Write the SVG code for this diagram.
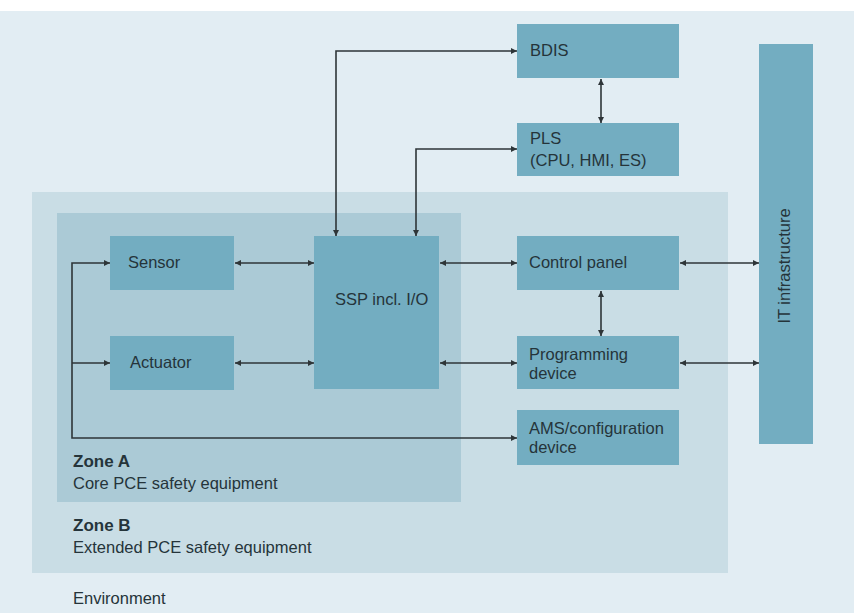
<svg xmlns="http://www.w3.org/2000/svg" width="854" height="613" viewBox="0 0 854 613">
<style>
.node{fill:#73adc1}
.t{font-family:"Liberation Sans",Arial,sans-serif;font-size:16.5px;fill:#25343a}
.b{font-weight:bold;font-size:17px}
.c{fill:none;stroke:#2e3538;stroke-width:1.6}
</style>
<defs>
<marker id="ah" viewBox="0 0 10 10" refX="10" refY="5" markerWidth="9" markerHeight="6" markerUnits="userSpaceOnUse" orient="auto-start-reverse">
<path d="M0,0 L10,5 L0,10 z" fill="#2e3538"/>
</marker>
</defs>
<rect x="0" y="0" width="854" height="613" fill="#ffffff"/>
<rect x="0" y="11" width="854" height="602" fill="#e2edf3"/>
<g id="zoneB">
<rect x="32" y="192" width="696" height="381" fill="#c9dde5"/>
<text class="t b" x="73" y="531">Zone B</text>
<text class="t" x="73" y="553">Extended PCE safety equipment</text>
</g>
<g id="zoneA">
<rect x="57" y="213" width="404" height="289" fill="#abcad6"/>
<text class="t b" x="73" y="467">Zone A</text>
<text class="t" x="73" y="489">Core PCE safety equipment</text>
</g>
<g id="environment">
<text class="t" x="73" y="604">Environment</text>
</g>
<g id="bdis">
<rect class="node" x="517" y="24" width="162" height="54"/>
<text class="t" x="530" y="56">BDIS</text>
</g>
<g id="pls">
<rect class="node" x="517" y="123" width="162" height="53"/>
<text class="t" x="530" y="144">PLS</text>
<text class="t" x="530" y="166">(CPU, HMI, ES)</text>
</g>
<g id="sensor">
<rect class="node" x="110" y="236" width="124" height="54"/>
<text class="t" x="128" y="268">Sensor</text>
</g>
<g id="actuator">
<rect class="node" x="110" y="336" width="124" height="54"/>
<text class="t" x="130" y="368">Actuator</text>
</g>
<g id="ssp">
<rect class="node" x="314" y="236" width="125" height="153"/>
<text class="t" x="335" y="305">SSP incl. I/O</text>
</g>
<g id="control-panel">
<rect class="node" x="517" y="236" width="162" height="54"/>
<text class="t" x="529" y="268">Control panel</text>
</g>
<g id="programming-device">
<rect class="node" x="517" y="336" width="162" height="53"/>
<text class="t" x="529" y="360">Programming</text>
<text class="t" x="529" y="379">device</text>
</g>
<g id="ams">
<rect class="node" x="517" y="410" width="162" height="55"/>
<text class="t" x="529" y="434">AMS/configuration</text>
<text class="t" x="529" y="453">device</text>
</g>
<g id="it-infrastructure">
<rect class="node" x="759" y="44" width="54" height="400"/>
<text class="t" x="0" y="0" text-anchor="middle" transform="translate(790,266) rotate(-90)">IT infrastructure</text>
</g>
<g id="connectors">
<path class="c" d="M336,236 V51 H517" marker-start="url(#ah)" marker-end="url(#ah)"/>
<path class="c" d="M416,236 V149 H517" marker-start="url(#ah)" marker-end="url(#ah)"/>
<path class="c" d="M601,79 V123" marker-start="url(#ah)" marker-end="url(#ah)"/>
<path class="c" d="M235,263 H314" marker-start="url(#ah)" marker-end="url(#ah)"/>
<path class="c" d="M235,363 H314" marker-start="url(#ah)" marker-end="url(#ah)"/>
<path class="c" d="M440,263 H517" marker-start="url(#ah)" marker-end="url(#ah)"/>
<path class="c" d="M440,363 H517" marker-start="url(#ah)" marker-end="url(#ah)"/>
<path class="c" d="M601,291 V336" marker-start="url(#ah)" marker-end="url(#ah)"/>
<path class="c" d="M680,263 H759" marker-start="url(#ah)" marker-end="url(#ah)"/>
<path class="c" d="M680,363 H759" marker-start="url(#ah)" marker-end="url(#ah)"/>
<path class="c" d="M110,263 H72 V438 H517" marker-start="url(#ah)" marker-end="url(#ah)"/>
<path class="c" d="M72,363 H110" marker-end="url(#ah)"/>
</g>
</svg>
